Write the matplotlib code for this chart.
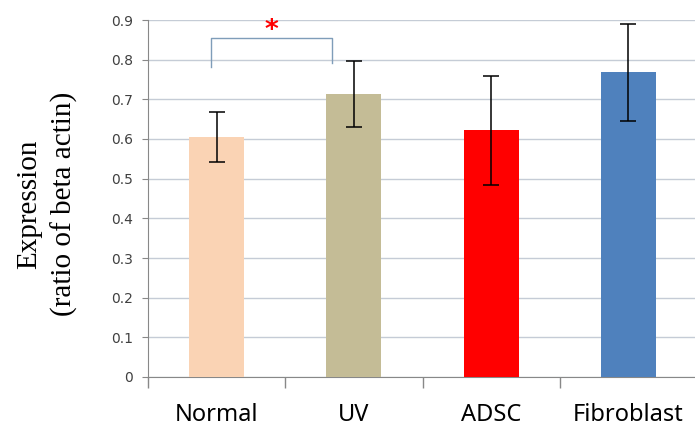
import matplotlib
matplotlib.use("Agg")
import matplotlib.pyplot as plt
import numpy as np

groups = ["Normal", "UV", "ADSC", "Fibroblast"]
expr = [0.605, 0.713, 0.622, 0.768]
err = [0.062, 0.084, 0.137, 0.123]
bar_colors = ["#FAD3B4", "#C4BC96", "#FF0000", "#4F81BD"]
yticks = [0, 0.1, 0.2, 0.3, 0.4, 0.5, 0.6, 0.7, 0.8, 0.9]

# significance bracket between Normal and UV
br_x = [-0.04, 0.84]
br_top = 0.854
br_legs = [0.781, 0.791]

fig = plt.figure(figsize=(6.95, 4.28), dpi=100)
ax = fig.add_axes([148/695, 1-377/428, 549/695, 357/428])

x = np.arange(len(groups))
ax.bar(x, expr, width=0.4, color=bar_colors, zorder=3)
ax.errorbar(x, expr, yerr=err, fmt="none", ecolor="black", elinewidth=1.1,
            capsize=6, capthick=1.1, zorder=4)

ax.set_xlim(-0.5, 3.5)
ax.set_ylim(0, 0.9)
ax.set_yticks(yticks)
ax.set_yticklabels(["0" if v == 0 else "%.1f" % v for v in yticks])
ax.yaxis.grid(True, color="#c5ccd6", lw=1, zorder=0)
ax.set_axisbelow(True)

ax.set_xticks(x)
ax.set_xticklabels(groups, fontsize=17, family="Noto Sans")
ax.set_xticks(np.arange(-0.5, 4, 1), minor=True)
ax.tick_params(axis="x", which="major", length=0, pad=19)
ax.tick_params(axis="x", which="minor", length=8, color="#888888", width=1)
ax.tick_params(axis="y", length=4, color="#888888", labelsize=10,
               labelcolor="#404040", pad=7)

for s in ["top", "right"]:
    ax.spines[s].set_visible(False)
ax.spines["left"].set_color("#888888")
ax.spines["bottom"].set_color("#888888")

ax.plot([br_x[0], br_x[0], br_x[1], br_x[1]],
        [br_legs[0], br_top, br_top, br_legs[1]],
        color="#7f9db9", lw=1, zorder=5, clip_on=False)
ax.text(sum(br_x)/2, 0.872, "*", color="red", fontsize=19, fontweight="bold",
        ha="center", va="center", zorder=6)

fig.text(47/695, 1-204/428, "Expression\n(ratio of beta actin)",
         rotation=90, ha="center", va="center", multialignment="center",
         fontsize=21, family="Liberation Serif", linespacing=1.4)

fig.savefig("out.png", dpi=100)
